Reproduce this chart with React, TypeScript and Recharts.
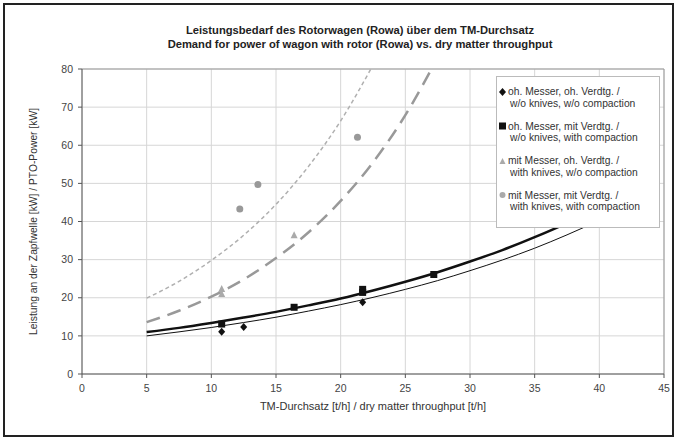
import { ComposedChart, Line, Scatter, XAxis, YAxis, CartesianGrid, ReferenceLine } from "recharts"

const xTicks = [0, 5, 10, 15, 20, 25, 30, 35, 40, 45]
const yTicks = [0, 10, 20, 30, 40, 50, 60, 70, 80]

// measured points
const ohOhPoints = [
  { x: 10.8, y: 11.1 },
  { x: 12.5, y: 12.3 },
  { x: 21.7, y: 18.8 },
]
const ohMitPoints = [
  { x: 10.8, y: 13.1 },
  { x: 16.4, y: 17.5 },
  { x: 21.7, y: 21.4 },
  { x: 21.7, y: 22.2 },
  { x: 27.2, y: 26.1 },
]
const mitOhPoints = [
  { x: 10.8, y: 21.0 },
  { x: 10.8, y: 22.3 },
  { x: 16.4, y: 36.4 },
]
const mitMitPoints = [
  { x: 12.2, y: 43.3 },
  { x: 13.6, y: 49.7 },
  { x: 21.3, y: 62.1 },
]

// trend curves
const solidX = [5, 7.5, 10, 12.5, 15, 17.5, 20, 22.5, 25, 27.5, 30, 32.5, 35, 37.5, 40]
const ohOhTrend = [10.0, 11.05, 12.2, 13.5, 14.9, 16.5, 18.2, 20.1, 22.2, 24.5, 27.1, 29.9, 33.0, 36.5, 40.3]
const ohMitTrend = [11.0, 12.1, 13.4, 14.8, 16.3, 18.0, 19.8, 21.9, 24.2, 26.7, 29.5, 32.5, 35.9, 39.6, 43.7]
const dashedX = [5, 7.5, 10, 12.5, 15, 17.5, 20, 22.5, 25, 27.5]
const mitOhTrend = [13.6, 16.6, 20.3, 24.8, 30.4, 37.1, 45.4, 55.5, 67.9, 83.0]
const dottedX = [5, 7.5, 10, 12.5, 15, 17.5, 20, 22.5]
const mitMitTrend = [19.9, 24.3, 29.8, 36.4, 44.5, 54.4, 66.4, 81.0]

const legendLines = [
  ["oh. Messer, oh. Verdtg. /", "w/o knives, w/o compaction"],
  ["oh. Messer, mit Verdtg. /", "w/o knives, with compaction"],
  ["mit Messer, oh. Verdtg. /", "with knives, w/o compaction"],
  ["mit Messer, mit Verdtg. /", "with knives, with compaction"],
]

const toPts = (xs: number[], ys: number[]) => xs.map((x, i) => ({ x, y: ys[i] }))

const FONT = "'Liberation Sans', Arial, sans-serif"

const Diamond = (p: any) => (
  <path d={`M${p.cx},${p.cy - 4} L${p.cx + 3.5},${p.cy} L${p.cx},${p.cy + 4} L${p.cx - 3.5},${p.cy} Z`} fill="#111" />
)
const Square = (p: any) => <rect x={p.cx - 3.5} y={p.cy - 3.5} width={7} height={7} fill="#111" />
const Triangle = (p: any) => (
  <path d={`M${p.cx},${p.cy - 4} L${p.cx + 3.5},${p.cy + 3} L${p.cx - 3.5},${p.cy + 3} Z`} fill="#aaa" />
)
const Circle = (p: any) => <circle cx={p.cx} cy={p.cy} r={3.5} fill="#999" />

const markers = [
  <svg width="7" height="8"><path d="M3.5,0 L7,4 L3.5,8 L0,4 Z" fill="#111" /></svg>,
  <svg width="7" height="8"><rect x="0" y="0.5" width="7" height="7" fill="#111" /></svg>,
  <svg width="7" height="8"><path d="M3.5,1 L6.5,7 L0.5,7 Z" fill="#aaa" /></svg>,
  <svg width="7" height="8"><circle cx="3.5" cy="4" r="3" fill="#aaa" /></svg>,
]

function LegendBox() {
  return (
    <div style={{ position: "absolute", left: 496, top: 76, width: 164, height: 152, border: "1px solid #bbb", background: "#fff", padding: "9px 2px 0 2px", fontFamily: FONT, fontSize: 10.3, color: "#333", lineHeight: "11.5px", boxSizing: "border-box", whiteSpace: "nowrap", overflow: "hidden" }}>
      {legendLines.map((l, i) => (
        <div key={i} style={{ height: 34.5 }}>
          <div style={{ display: "flex", alignItems: "center" }}>
            <span style={{ width: 9, display: "inline-block", lineHeight: 0 }}>{markers[i]}</span>
            <span>{l[0]}</span>
          </div>
          <div style={{ paddingLeft: 11 }}>{l[1]}</div>
        </div>
      ))}
    </div>
  )
}

export default function App() {
  return (
    <div style={{ position: "absolute", left: 0, top: 0, width: 677, height: 441, background: "#fff" }}>
      <div style={{ position: "absolute", left: 3, top: 3, width: 667, height: 430, border: "2px solid #222" }} />
      <div style={{ position: "absolute", left: 0, top: 23, width: 720, textAlign: "center", fontFamily: FONT, fontSize: 11.2, fontWeight: "bold", color: "#222", lineHeight: "14px" }}>
        Leistungsbedarf des Rotorwagen (Rowa) über dem TM-Durchsatz
        <br />
        Demand for power of wagon with rotor (Rowa) vs. dry matter throughput
      </div>
      <div style={{ position: "absolute", left: 0, top: 0 }}>
        <ComposedChart width={677} height={441} margin={{ top: 69, right: 13, left: 0, bottom: 0 }}>
          <CartesianGrid stroke="#d6d6d6" strokeWidth={1} />
          <XAxis
            type="number"
            dataKey="x"
            domain={[0, 45]}
            ticks={xTicks}
            interval={0}
            height={67}
            tickSize={4}
            tickMargin={7}
            stroke="#555"
            tick={{ fill: "#444", fontSize: 10.5, fontFamily: FONT }}
            label={{ value: "TM-Durchsatz [t/h] / dry matter throughput [t/h]", position: "insideTop", offset: 28, fill: "#333", fontSize: 11, fontFamily: FONT }}
          />
          <YAxis
            type="number"
            domain={[0, 80]}
            ticks={yTicks}
            interval={0}
            allowDataOverflow
            width={82}
            tickSize={4}
            tickMargin={5}
            stroke="#555"
            tick={{ fill: "#444", fontSize: 10.5, fontFamily: FONT }}
            label={{ value: "Leistung an der Zapfwelle  [kW] / PTO-Power [kW]", angle: -90, position: "insideLeft", offset: 33, fill: "#333", fontSize: 10.3, fontFamily: FONT, style: { textAnchor: "middle" } }}
          />
          <ReferenceLine y={80} stroke="#999" />
          <ReferenceLine x={45} stroke="#999" />
          <Line data={toPts(dottedX, mitMitTrend)} dataKey="y" type="monotone" stroke="#b0b0b0" strokeWidth={1.5} strokeDasharray="4 3" dot={false} isAnimationActive={false} />
          <Line data={toPts(dashedX, mitOhTrend)} dataKey="y" type="monotone" stroke="#999" strokeWidth={2.5} strokeDasharray="14 8" dot={false} isAnimationActive={false} />
          <Line data={toPts(solidX, ohOhTrend)} dataKey="y" type="monotone" stroke="#111" strokeWidth={1} dot={false} isAnimationActive={false} />
          <Line data={toPts(solidX, ohMitTrend)} dataKey="y" type="monotone" stroke="#111" strokeWidth={2.5} dot={false} isAnimationActive={false} />
          <Scatter data={ohOhPoints} dataKey="y" shape={Diamond} isAnimationActive={false} />
          <Scatter data={ohMitPoints} dataKey="y" shape={Square} isAnimationActive={false} />
          <Scatter data={mitOhPoints} dataKey="y" shape={Triangle} isAnimationActive={false} />
          <Scatter data={mitMitPoints} dataKey="y" shape={Circle} isAnimationActive={false} />
        </ComposedChart>
      </div>
      <LegendBox />
    </div>
  )
}
